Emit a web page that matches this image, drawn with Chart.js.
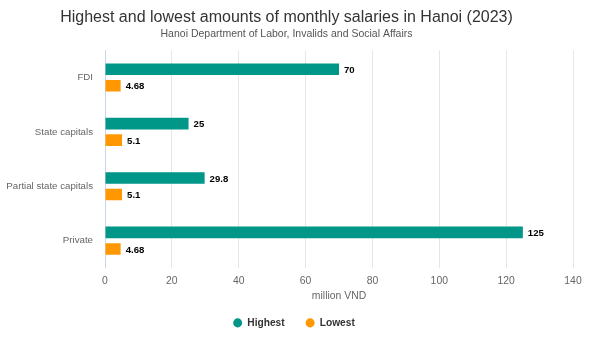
<!DOCTYPE html>
<html>
<head>
<meta charset="utf-8">
<script src="https://cdn.jsdelivr.net/npm/chart.js@4"></script>
<style>
  html, body { margin: 0; padding: 0; background: #fff; }
  #wrap { width: 600px; height: 337px; }
</style>
</head>
<body>
<div id="wrap"><canvas id="salaryChart"></canvas></div>
<script>
// Data
const categories = ['FDI', 'State capitals', 'Partial state capitals', 'Private'];
const highest = [70, 25, 29.8, 125];
const lowest = [4.68, 5.1, 5.1, 4.68];
const xTicks = [0, 20, 40, 60, 80, 100, 120, 140];

const FONT = "'Liberation Sans', Arial, sans-serif";

// draw value at the end of each bar
const barLabels = {
  id: 'barLabels',
  afterDatasetsDraw(chart) {
    const ctx = chart.ctx;
    ctx.save();
    ctx.font = 'bold 9.6px ' + FONT;
    ctx.fillStyle = '#000';
    ctx.textBaseline = 'middle';
    ctx.textAlign = 'left';
    chart.data.datasets.forEach((ds, i) => {
      const meta = chart.getDatasetMeta(i);
      meta.data.forEach((bar, j) => {
        ctx.fillText(String(ds.data[j]), bar.x + 5, bar.y + 1);
      });
    });
    ctx.restore();
  }
};

// legend is centred on the whole canvas, not just the chart width
const legendCenter = {
  id: 'legendCenter',
  afterLayout(chart) {
    const lg = chart.legend;
    if (!lg) return;
    lg.left = 0;
    lg.right = 588;
    lg.width = 588;
    lg.adjustHitBoxes();
  }
};

const ctx = document.getElementById('salaryChart').getContext('2d');
new Chart(ctx, {
  type: 'bar',
  data: {
    labels: categories,
    datasets: [
      {
        label: 'Highest',
        data: highest,
        backgroundColor: '#009688',
        borderWidth: 0,
        categoryPercentage: 0.61,
        barPercentage: 0.7
      },
      {
        label: 'Lowest',
        data: lowest,
        backgroundColor: '#ff9800',
        borderWidth: 0,
        categoryPercentage: 0.61,
        barPercentage: 0.7
      }
    ]
  },
  options: {
    indexAxis: 'y',
    responsive: true,
    maintainAspectRatio: false,
    animation: false,
    layout: { padding: { left: 0, right: 27, top: 0, bottom: -1 } },
    plugins: {
      title: {
        display: true,
        text: 'Highest and lowest amounts of monthly salaries in Hanoi (2023)',
        color: '#333',
        font: { family: FONT, size: 16, weight: 'normal' },
        padding: { top: 8, bottom: 1 }
      },
      subtitle: {
        display: true,
        text: 'Hanoi Department of Labor, Invalids and Social Affairs',
        color: '#555',
        font: { family: FONT, size: 10.5 },
        padding: { top: 0, bottom: 9.5 }
      },
      legend: {
        position: 'bottom',
        labels: {
          usePointStyle: true,
          pointStyle: 'circle',
          pointStyleWidth: 9,
          boxHeight: 6.4,
          padding: 21,
          color: '#333',
          font: { family: FONT, size: 10.2, weight: 'bold' }
        }
      },
      tooltip: { enabled: false }
    },
    scales: {
      x: {
        min: 0,
        max: 140,
        afterBuildTicks: axis => { axis.ticks = xTicks.map(v => ({ value: v })); },
        grid: { color: '#e6e6e6', drawTicks: false },
        border: { display: false },
        ticks: { color: '#666', font: { family: FONT, size: 10.4 }, padding: 7 },
        title: {
          display: true,
          text: 'million VND',
          color: '#666',
          font: { family: FONT, size: 10.4 },
          padding: { top: -4, bottom: -6 }
        }
      },
      y: {
        grid: { display: false, drawTicks: false },
        border: { display: true, color: '#ccd6eb', width: 1 },
        ticks: { color: '#666', font: { family: FONT, size: 9.7 }, padding: 12 },
        afterFit: axis => { axis.width = 105; }
      }
    }
  },
  plugins: [barLabels, legendCenter]
});
</script>
</body>
</html>
